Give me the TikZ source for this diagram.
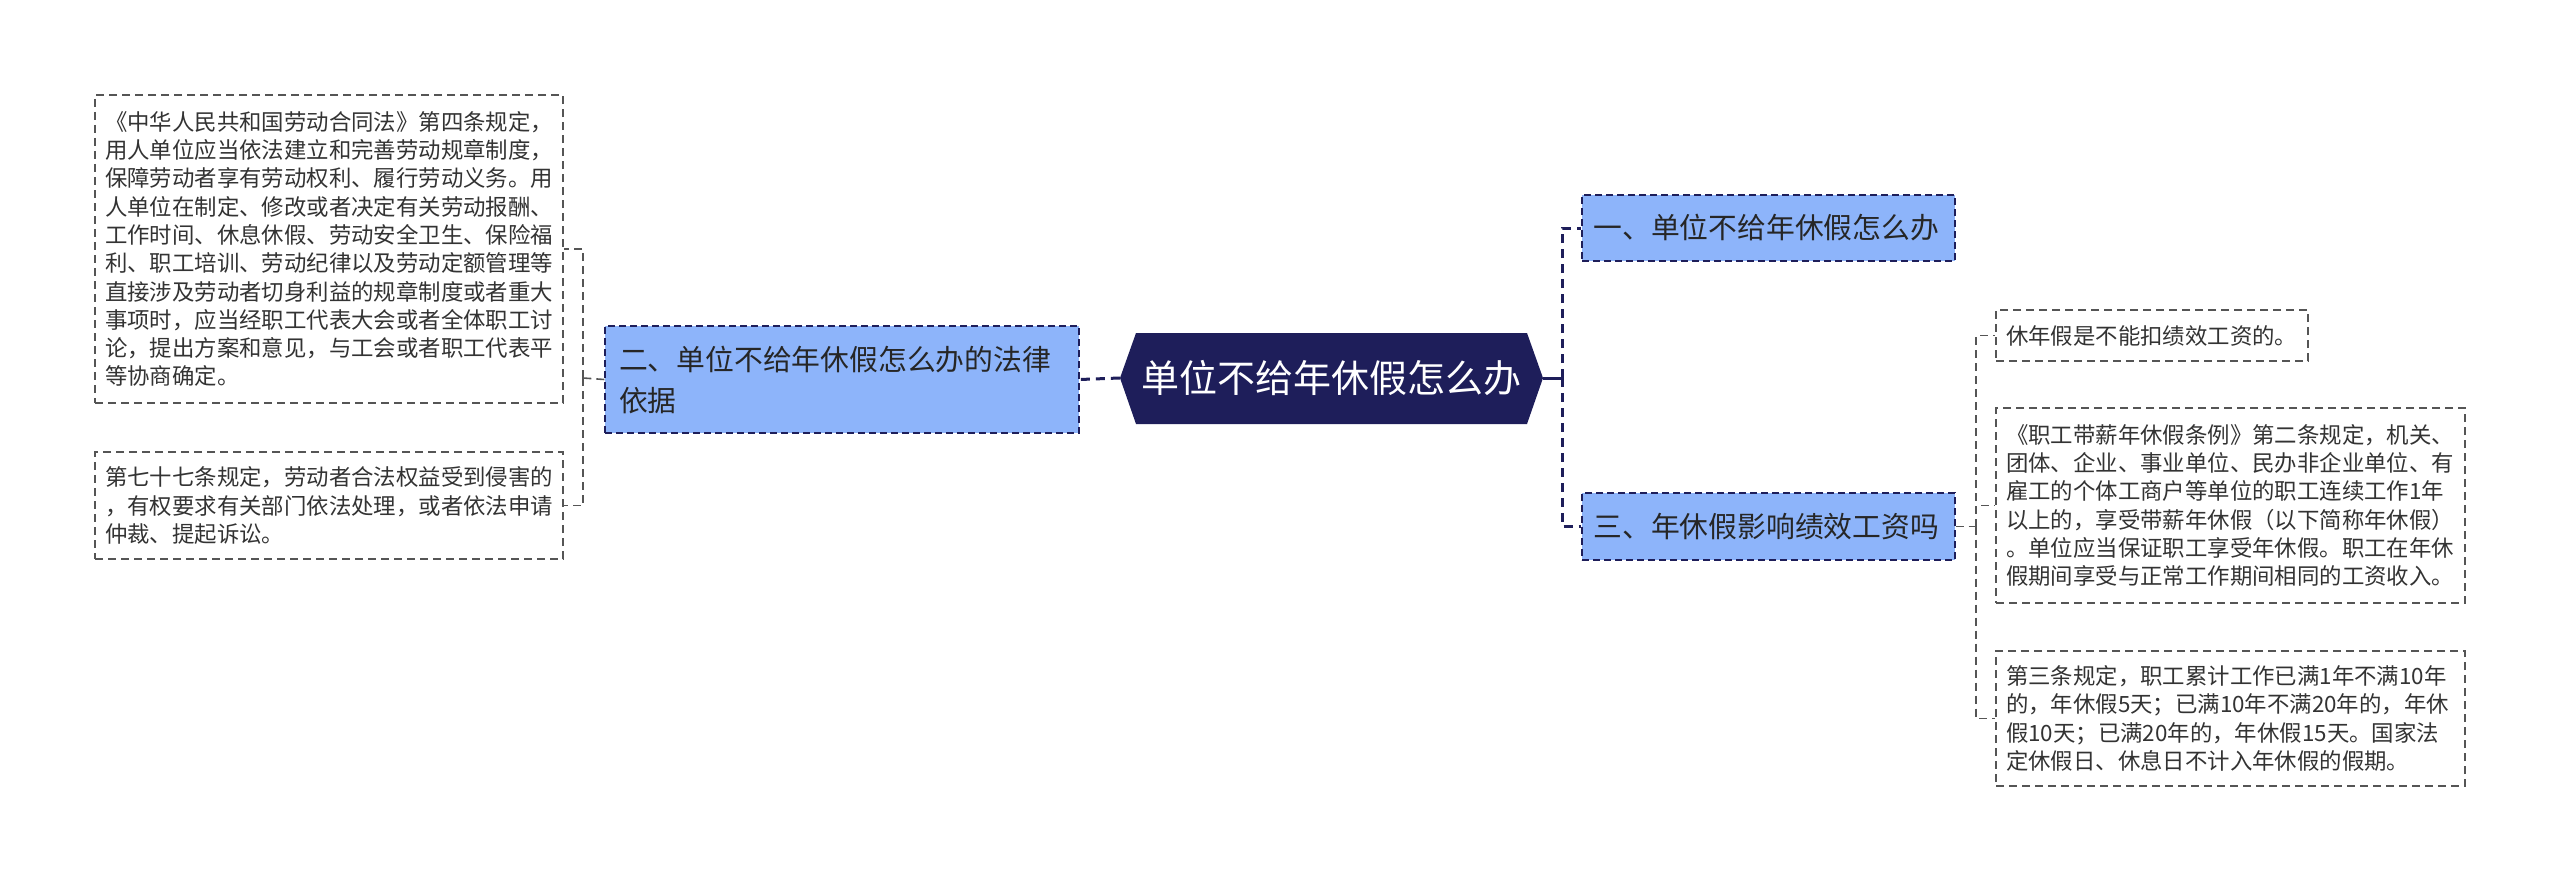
\documentclass[tikz,border=0pt]{standalone}
\usepackage{fontspec}
\setmainfont{Noto Sans CJK SC}
\definecolor{navy}{HTML}{1E1E5A}
\definecolor{midblue}{HTML}{8DB4FA}
\definecolor{leaftext}{HTML}{333333}
\definecolor{leafline}{HTML}{555555}
\begin{document}
\begin{tikzpicture}[x=1pt,y=-1pt,
  leafbox/.style={draw=leafline, line width=1.6pt, dash pattern=on 8pt off 5pt, fill=white,
    text=leaftext, align=left, inner ysep=0pt, anchor=center,
    font=\fontsize{22.4}{28.3}\selectfont},
  midbox/.style={draw=navy, line width=1.4pt, dash pattern=on 7pt off 4pt, fill=midblue,
    text=black!85, align=left, inner ysep=0pt, anchor=center,
    font=\fontsize{28.8}{41}\selectfont},
  mainlink/.style={draw=navy, line width=3pt},
  maindash/.style={draw=navy, line width=3pt, dash pattern=on 9pt off 6pt},
  sublink/.style={draw=leafline, line width=1.6pt, dash pattern=on 8pt off 5pt}]
\useasboundingbox (0,0) rectangle (2560,883);
\fill[white] (0,0) rectangle (2560,883);

% central node
\fill[navy] (1120,378) -- (1136,333) -- (1527,333) -- (1543,378) -- (1527,424) -- (1136,424) -- cycle;
\node (c) [minimum width=423pt, minimum height=91pt, inner sep=0pt, text=white,
  font=\fontsize{38}{44}\selectfont] at (1331.5,378) {单位不给年休假怎么办};

% level 1
\node (n2) [midbox, text width=446pt, inner xsep=14pt, minimum height=107pt] at (842,379.5)
  {二、单位不给年休假怎么办的法律\\依据};
\node (n1) [midbox, text width=350pt, inner xsep=11.5pt, minimum height=66pt] at (1768.5,228)
  {一、单位不给年休假怎么办};
\node (n3) [midbox, text width=350pt, inner xsep=11.5pt, minimum height=67pt] at (1768.5,526.5)
  {三、年休假影响绩效工资吗};

% leaves left
\node (l1) [leafbox, text width=448pt, inner xsep=10pt, minimum height=308pt] at (329,249)
  {《中华人民共和国劳动合同法》第四条规定，\\用人单位应当依法建立和完善劳动规章制度，\\保障劳动者享有劳动权利、履行劳动义务。用\\人单位在制定、修改或者决定有关劳动报酬、\\工作时间、休息休假、劳动安全卫生、保险福\\利、职工培训、劳动纪律以及劳动定额管理等\\直接涉及劳动者切身利益的规章制度或者重大\\事项时，应当经职工代表大会或者全体职工讨\\论，提出方案和意见，与工会或者职工代表平\\等协商确定。};
\node (l2) [leafbox, text width=448pt, inner xsep=10pt, minimum height=107pt] at (329,505.5)
  {第七十七条规定，劳动者合法权益受到侵害的\\，有权要求有关部门依法处理，或者依法申请\\仲裁、提起诉讼。};

% leaves right
\node (r1) [leafbox, text width=292pt, inner xsep=10pt, minimum height=51pt] at (2152,335.5)
  {休年假是不能扣绩效工资的。};
\node (r2) [leafbox, text width=449pt, inner xsep=10pt, minimum height=195pt] at (2230.5,505.5)
  {《职工带薪年休假条例》第二条规定，机关、\\团体、企业、事业单位、民办非企业单位、有\\雇工的个体工商户等单位的职工连续工作1年\\以上的，享受带薪年休假（以下简称年休假）\\。单位应当保证职工享受年休假。职工在年休\\假期间享受与正常工作期间相同的工资收入。};
\node (r3) [leafbox, text width=449pt, inner xsep=10pt, minimum height=135pt] at (2230.5,718.5)
  {第三条规定，职工累计工作已满1年不满10年\\的，年休假5天；已满10年不满20年的，年休\\假10天；已满20年的，年休假15天。国家法\\定休假日、休息日不计入年休假的假期。};

% junction points
\coordinate (jr) at (1562,378);
\coordinate (jl) at (583,378);
\coordinate (j3) at (1976,526.5);

% connectors
\draw[maindash] (c.west) -- (n2.east);
\draw[mainlink] (c.east) -- (jr);
\draw[maindash] (jr) |- (n1.west);
\draw[maindash] (jr) |- (n3.west);

\draw[sublink] (n2.west) -- (jl);
\draw[sublink] (jl) |- (l1.east);
\draw[sublink] (jl) |- (l2.east);

\draw[sublink] (n3.east) -- (j3);
\draw[sublink] (j3) |- (r1.west);
\draw[sublink] (j3) |- (r2.west);
\draw[sublink] (j3) |- (r3.west);
\end{tikzpicture}
\end{document}
